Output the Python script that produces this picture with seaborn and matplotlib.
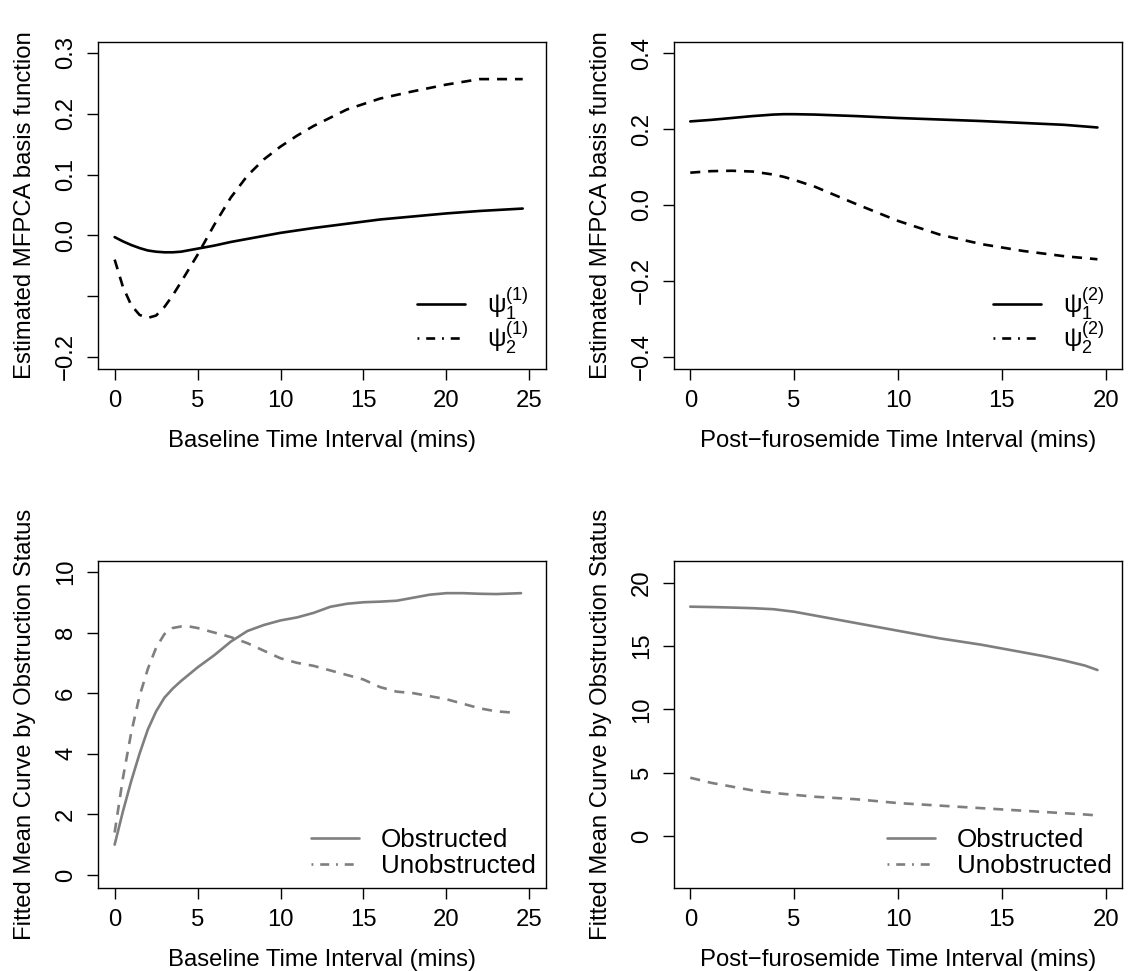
import numpy as np
import matplotlib
matplotlib.use("Agg")
import matplotlib.pyplot as plt
import seaborn as sns
from matplotlib.lines import Line2D

# --- data ---
# top-left: baseline basis functions
base_x = [0, 0.5, 1, 1.5, 2, 2.5, 3, 3.5, 4, 5, 6, 7, 8, 9, 10, 11, 12, 14, 16, 18, 20, 22, 24.6]
psi1_base = [-0.003, -0.010, -0.016, -0.021, -0.025, -0.027, -0.028, -0.028, -0.027, -0.022, -0.017,
             -0.011, -0.006, -0.001, 0.004, 0.008, 0.012, 0.019, 0.026, 0.031, 0.036, 0.040, 0.044]
psi2_base = [-0.040, -0.085, -0.115, -0.131, -0.136, -0.132, -0.118, -0.099, -0.077, -0.032, 0.017,
             0.062, 0.098, 0.125, 0.146, 0.164, 0.180, 0.207, 0.225, 0.237, 0.248, 0.257, 0.257]

# top-right: post-furosemide basis functions
post_x = [0, 1, 2, 3, 4, 4.5, 5, 6, 7, 8, 10, 12, 14, 16, 18, 19.6]
psi1_post = [0.220, 0.224, 0.229, 0.234, 0.238, 0.239, 0.239, 0.238, 0.236, 0.234, 0.229, 0.225,
             0.221, 0.216, 0.211, 0.204]
psi2_post = [0.085, 0.089, 0.090, 0.088, 0.080, 0.074, 0.066, 0.048, 0.025, 0.002, -0.042, -0.078,
             -0.103, -0.121, -0.135, -0.143]

# bottom-left: fitted mean curves, baseline
obs_base_x = [0, 0.5, 1, 1.5, 2, 2.5, 3, 3.5, 4, 5, 6, 7, 8, 9, 10, 11, 12, 13, 14, 15, 16, 17,
              18, 19, 20, 21, 22, 23, 24.5]
obs_base = [1.0, 2.1, 3.1, 4.0, 4.8, 5.4, 5.85, 6.15, 6.4, 6.85, 7.25, 7.7, 8.05, 8.25, 8.4, 8.5,
            8.65, 8.85, 8.95, 9.0, 9.02, 9.05, 9.15, 9.25, 9.3, 9.3, 9.28, 9.27, 9.3]
unobs_base_x = [0, 0.5, 1, 1.5, 2, 2.5, 3, 3.5, 4, 4.5, 5, 6, 7, 8, 9, 10, 11, 12, 13, 14, 15,
                16, 17, 18, 19, 20, 21, 22, 23, 24.2]
unobs_base = [1.4, 3.2, 4.7, 5.9, 6.8, 7.5, 7.95, 8.15, 8.2, 8.2, 8.15, 8.0, 7.85, 7.65, 7.4, 7.15,
              7.0, 6.9, 6.75, 6.6, 6.45, 6.2, 6.05, 6.0, 5.9, 5.8, 5.65, 5.5, 5.4, 5.35]

# bottom-right: fitted mean curves, post-furosemide
obs_post_x = [0, 1, 2, 3, 4, 5, 6, 7, 8, 9, 10, 11, 12, 13, 14, 15, 16, 17, 18, 19, 19.6]
obs_post = [18.1, 18.07, 18.03, 17.98, 17.9, 17.7, 17.4, 17.1, 16.8, 16.5, 16.2, 15.9, 15.6, 15.35,
            15.1, 14.8, 14.5, 14.2, 13.85, 13.45, 13.1]
unobs_post_x = [0, 1, 2, 3, 4, 5, 6, 7, 8, 9, 10, 11, 12, 13, 14, 15, 16, 17, 18, 19, 19.4]
unobs_post = [4.6, 4.2, 3.9, 3.6, 3.4, 3.25, 3.1, 3.0, 2.9, 2.75, 2.6, 2.5, 2.4, 2.3, 2.2, 2.1,
              2.0, 1.9, 1.8, 1.7, 1.65]

# --- style ---
sns.set_style("ticks")
plt.rcParams['font.family'] = ['Liberation Sans', 'DejaVu Sans']
plt.rcParams['mathtext.fontset'] = 'custom'
plt.rcParams['mathtext.rm'] = 'Liberation Sans'
plt.rcParams['mathtext.it'] = 'Liberation Sans'
plt.rcParams['mathtext.default'] = 'regular'
for key in ('text.color', 'axes.labelcolor', 'xtick.color', 'ytick.color'):
    plt.rcParams[key] = 'black'

FS = 17.2      # axis labels and tick labels
LFS = 18.7     # legend text
LW = 1.9
DASH = (0, (3.8, 3.0))
DASHDOT = (0, (0.7, 2.6, 3.4, 2.6))
GREY = '#7f7f7f'

fig = plt.figure(figsize=(11.31, 9.71), dpi=100)
W, H = 0.396, 0.3367
ax_tl = fig.add_axes([0.0867, 0.620, W, H])
ax_tr = fig.add_axes([0.596, 0.620, W, H])
ax_bl = fig.add_axes([0.0867, 0.0855, W, H])
ax_br = fig.add_axes([0.596, 0.0855, W, H])

# --- basis functions ---
sns.lineplot(x=base_x, y=psi1_base, ax=ax_tl, color='black', linewidth=LW)
sns.lineplot(x=base_x, y=psi2_base, ax=ax_tl, color='black', linewidth=LW, linestyle=DASH)
sns.lineplot(x=post_x, y=psi1_post, ax=ax_tr, color='black', linewidth=LW)
sns.lineplot(x=post_x, y=psi2_post, ax=ax_tr, color='black', linewidth=LW, linestyle=DASH)

# --- fitted means ---
sns.lineplot(x=obs_base_x, y=obs_base, ax=ax_bl, color=GREY, linewidth=LW)
sns.lineplot(x=unobs_base_x, y=unobs_base, ax=ax_bl, color=GREY, linewidth=LW, linestyle=DASH)
sns.lineplot(x=obs_post_x, y=obs_post, ax=ax_br, color=GREY, linewidth=LW)
sns.lineplot(x=unobs_post_x, y=unobs_post, ax=ax_br, color=GREY, linewidth=LW, linestyle=DASH)

# --- axes limits / ticks ---
ax_tl.set_xlim(-1, 26)
ax_tl.set_ylim(-0.22, 0.318)
ax_tl.set_xticks([0, 5, 10, 15, 20, 25])
ax_tl.set_yticks([-0.2, -0.1, 0.0, 0.1, 0.2, 0.3])
ax_tl.set_yticklabels(['\u22120.2', '', '0.0', '0.1', '0.2', '0.3'])

ax_tr.set_xlim(-0.78, 20.78)
ax_tr.set_ylim(-0.432, 0.429)
ax_tr.set_xticks([0, 5, 10, 15, 20])
ax_tr.set_yticks([-0.4, -0.2, 0.0, 0.2, 0.4])
ax_tr.set_yticklabels(['\u22120.4', '\u22120.2', '0.0', '0.2', '0.4'])

ax_bl.set_xlim(-1, 26)
ax_bl.set_ylim(-0.43, 10.36)
ax_bl.set_xticks([0, 5, 10, 15, 20, 25])
ax_bl.set_yticks([0, 2, 4, 6, 8, 10])

ax_br.set_xlim(-0.78, 20.78)
ax_br.set_ylim(-4.1, 21.7)
ax_br.set_xticks([0, 5, 10, 15, 20])
ax_br.set_yticks([0, 5, 10, 15, 20])

for ax in (ax_tl, ax_tr, ax_bl, ax_br):
    for s in ax.spines.values():
        s.set_visible(True)
        s.set_color('black')
        s.set_linewidth(1.0)
    ax.tick_params(axis='both', direction='out', length=8, width=1.0, color='black',
                   labelsize=FS, pad=7)
    for lab in ax.get_yticklabels():
        lab.set_rotation(90)
        lab.set_va('center')

ax_tl.set_xlabel('Baseline Time Interval (mins)', fontsize=FS, labelpad=13)
ax_tr.set_xlabel('Post\u2212furosemide Time Interval (mins)', fontsize=FS, labelpad=13)
ax_bl.set_xlabel('Baseline Time Interval (mins)', fontsize=FS, labelpad=13)
ax_br.set_xlabel('Post\u2212furosemide Time Interval (mins)', fontsize=FS, labelpad=13)
ax_tl.set_ylabel('Estimated MFPCA basis function', fontsize=FS, labelpad=14)
ax_tr.set_ylabel('Estimated MFPCA basis function', fontsize=FS, labelpad=14)
ax_bl.set_ylabel('Fitted Mean Curve by Obstruction Status', fontsize=FS, labelpad=14)
ax_br.set_ylabel('Fitted Mean Curve by Obstruction Status', fontsize=FS, labelpad=14)

# --- legends (legend keys are dash-dot, as in the original) ---
def add_legend(ax, color, labels, spacing, xoff, yoff):
    handles = [Line2D([], [], color=color, linewidth=LW),
               Line2D([], [], color=color, linewidth=LW, linestyle=DASHDOT)]
    ax.legend(handles, labels, loc='lower right', frameon=False, fontsize=LFS,
              handlelength=1.85, handletextpad=0.85, labelspacing=spacing,
              borderaxespad=0.0, bbox_to_anchor=(xoff, yoff))

add_legend(ax_tl, 'black', [r'$\psi_1^{(1)}$', r'$\psi_2^{(1)}$'], -0.12, 0.985, 0.008)
add_legend(ax_tr, 'black', [r'$\psi_1^{(2)}$', r'$\psi_2^{(2)}$'], -0.12, 0.985, 0.008)
add_legend(ax_bl, GREY, ['Obstructed', 'Unobstructed'], 0.05, 1.0, 0.0)
add_legend(ax_br, GREY, ['Obstructed', 'Unobstructed'], 0.05, 1.0, 0.0)

fig.savefig('out.png', dpi=100)
